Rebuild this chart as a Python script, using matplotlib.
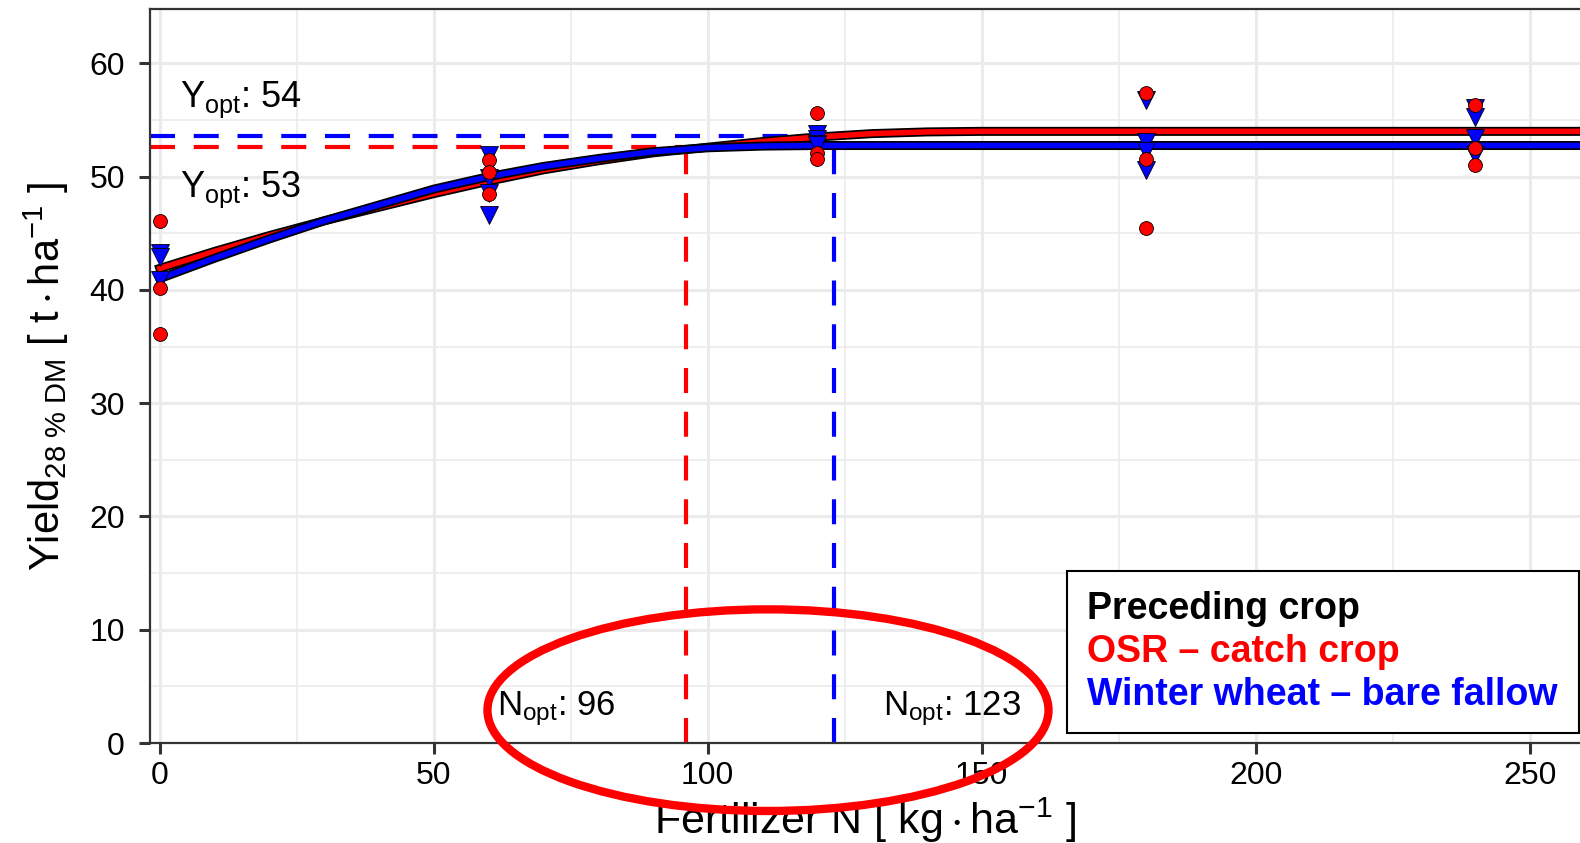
import matplotlib
matplotlib.use("Agg")
import matplotlib.pyplot as plt
import matplotlib.patheffects as pe
from matplotlib.lines import Line2D
from matplotlib.patches import Ellipse
from matplotlib.ticker import MultipleLocator

plt.rcParams['font.family'] = ['Liberation Sans', 'DejaVu Sans']
plt.rcParams['mathtext.fontset'] = 'custom'
plt.rcParams['mathtext.rm'] = 'Liberation Sans'
plt.rcParams['mathtext.it'] = 'Liberation Sans:italic'
plt.rcParams['mathtext.bf'] = 'Liberation Sans:bold'

# observed yields per N rate
osr_x = [0, 0, 0, 60, 60, 60, 120, 120, 120, 180, 180, 180, 240, 240, 240]
osr_y = [46.1, 40.2, 36.1, 51.5, 50.4, 48.5, 55.6, 52.1, 51.6, 57.4, 51.6, 45.5, 56.3, 52.5, 51.0]
ww_x = [0, 0, 0, 60, 60, 60, 60, 120, 120, 120, 120, 180, 180, 180, 180, 240, 240, 240, 240]
ww_y = [43.3, 42.9, 40.9, 51.9, 49.9, 48.6, 46.6, 53.8, 53.3, 52.9, 52.8, 56.8, 53.1, 52.3, 50.6, 56.1, 55.3, 53.4, 51.9]

# fitted response curves
fit_x = [0, 10, 20, 30, 40, 50, 60, 70, 80, 90, 100, 110, 120, 130, 140, 150, 270]
osr_fit = [41.9, 43.4, 44.8, 46.1, 47.3, 48.5, 49.6, 50.6, 51.4, 52.1, 52.6, 53.1, 53.5, 53.8, 53.95, 54.0, 54.0]
ww_fit = [41.0, 42.8, 44.5, 46.1, 47.5, 48.9, 50.0, 50.9, 51.6, 52.2, 52.55, 52.7, 52.75, 52.75, 52.75, 52.75, 52.75]

# optimum lines
osr_nopt, osr_yline = 96, 52.6
ww_nopt, ww_yline = 123, 53.6
ww_vline_top = 52.75

fig = plt.figure(figsize=(15.8, 8.43), dpi=100)
ax = fig.add_axes([0.0949, 0.1186, 0.9051, 0.8707])
ax.set_xlim(-1.8, 259.2)
ax.set_ylim(0, 64.8)

ax.xaxis.set_major_locator(MultipleLocator(50))
ax.xaxis.set_minor_locator(MultipleLocator(25))
ax.yaxis.set_major_locator(MultipleLocator(10))
ax.yaxis.set_minor_locator(MultipleLocator(5))
ax.grid(which='major', color='#ebebeb', linewidth=2.2, zorder=0)
ax.grid(which='minor', color='#ebebeb', linewidth=1.2, zorder=0)
ax.set_axisbelow(True)
for s in ['left', 'bottom', 'top']:
    ax.spines[s].set_color('#333333')
    ax.spines[s].set_linewidth(1.6)
ax.spines['right'].set_visible(False)
ax.tick_params(which='major', length=8, width=2.2, color='#333333', labelsize=23)
ax.tick_params(axis='y', pad=10)
ax.tick_params(axis='x', pad=5)
ax.tick_params(which='minor', length=0)

dash = (6, 4.5)
ax.plot([-1.8, ww_nopt], [ww_yline, ww_yline], color='blue', lw=3, dashes=dash, zorder=2)
ax.plot([-1.8, osr_nopt], [osr_yline, osr_yline], color='red', lw=3, dashes=dash, zorder=2)
ax.plot([osr_nopt, osr_nopt], [0, osr_yline], color='red', lw=3, dashes=dash, zorder=2)
ax.plot([ww_nopt, ww_nopt], [0, ww_vline_top], color='blue', lw=3, dashes=dash, zorder=2)

outline = [pe.Stroke(linewidth=6.5, foreground='black'), pe.Normal()]
ax.plot(fit_x, osr_fit, color='red', lw=4, path_effects=outline, zorder=3)
ax.plot(fit_x, ww_fit, color='blue', lw=4, path_effects=outline, zorder=3)

ax.plot(ww_x, ww_y, linestyle='none', marker='v', markersize=12.5, color='blue',
        markeredgecolor='black', markeredgewidth=0.6, zorder=4)
ax.plot(osr_x, osr_y, linestyle='none', marker='o', markersize=10, color='red',
        markeredgecolor='black', markeredgewidth=0.6, zorder=5)

ax.text(3.6, 56.8, r'$\mathregular{Y_{opt}}$: 54', fontsize=26, va='center', ha='left')
ax.text(3.6, 48.8, r'$\mathregular{Y_{opt}}$: 53', fontsize=26, va='center', ha='left')
ax.text(61.5, 3.0, r'$\mathregular{N_{opt}}$: 96', fontsize=25, va='center', ha='left')
ax.text(132, 3.0, r'$\mathregular{N_{opt}}$: 123', fontsize=25, va='center', ha='left')

ax.add_patch(Ellipse((111.0, 2.9), 102.4, 17.8, fill=False, edgecolor='red',
                     linewidth=6, clip_on=False, zorder=6))

ax.set_xlabel(r'$\mathregular{Fertilizer\ N\ [\ kg\cdot ha^{-1}\ ]}$', fontsize=31, labelpad=3)
ax.set_ylabel(r'$\mathregular{Yield_{28\ \%\ DM}\ [\ t\cdot ha^{-1}\ ]}$', fontsize=30, labelpad=13)

blank = [Line2D([], [], linestyle='none'), Line2D([], [], linestyle='none')]
leg = ax.legend(blank, ['OSR – catch crop', 'Winter wheat – bare fallow'],
                title='Preceding crop', loc='lower right', bbox_to_anchor=(0.999, 0.013),
                borderaxespad=0, handlelength=0, handletextpad=0, labelcolor=['red', 'blue'],
                prop={'weight': 'bold', 'size': 27},
                title_fontproperties={'weight': 'bold', 'size': 27},
                alignment='left', frameon=True, fancybox=False, framealpha=1,
                edgecolor='black', borderpad=0.55, labelspacing=0.18)
leg.get_frame().set_linewidth(1.5)

fig.savefig('out.png', dpi=100)
